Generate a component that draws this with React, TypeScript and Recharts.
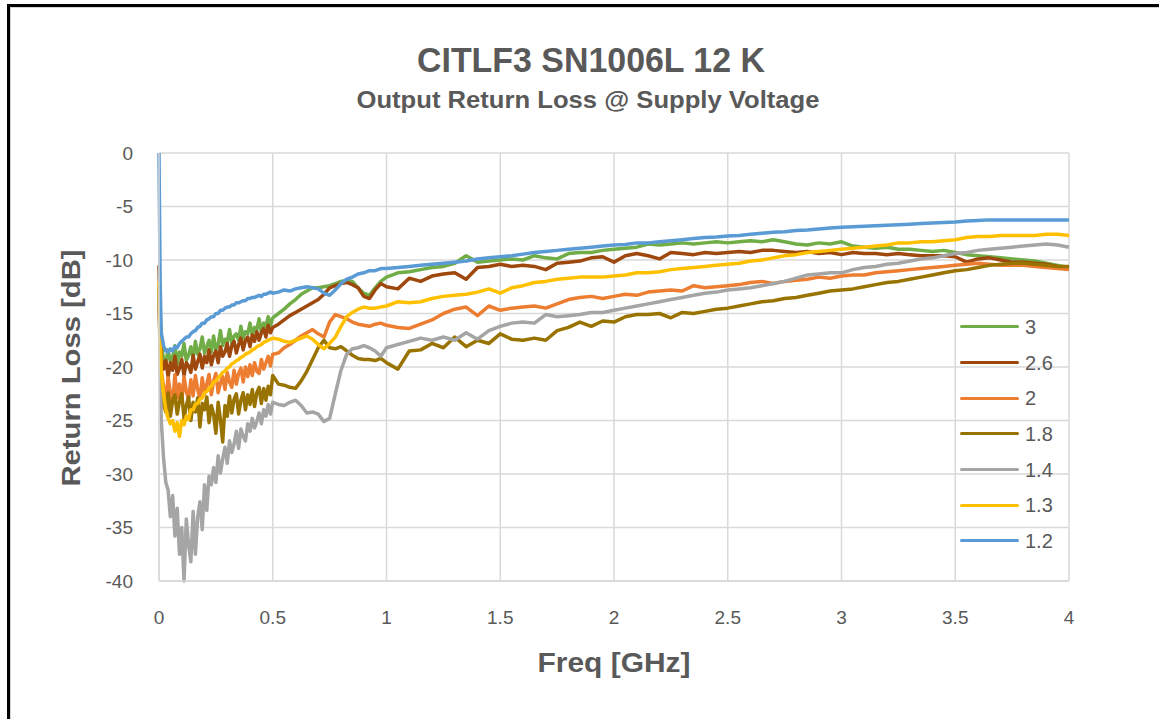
import React from 'react';
import { LineChart, Line, XAxis, YAxis, CartesianGrid, Legend } from 'recharts';

// Frequency grid [GHz]
const freqLow = [0, 0.005,
  0.01, 0.02, 0.03, 0.04, 0.05, 0.06, 0.07, 0.08, 0.09, 0.10,
  0.11, 0.12, 0.13, 0.14, 0.15, 0.16, 0.17, 0.18, 0.19, 0.20,
  0.21, 0.22, 0.23, 0.24, 0.25, 0.26, 0.27, 0.28, 0.29, 0.30,
  0.31, 0.32, 0.33, 0.34, 0.35, 0.36, 0.37, 0.38, 0.39, 0.40,
  0.41, 0.42, 0.43, 0.44, 0.45, 0.46, 0.47, 0.48, 0.49, 0.50];
const freqMid = [0.525, 0.55, 0.575, 0.6, 0.625, 0.65, 0.675, 0.7, 0.725, 0.75,
  0.775, 0.8, 0.825, 0.85, 0.875, 0.9, 0.925, 0.95, 0.975, 1.0];
const freqHigh = [1.05, 1.1, 1.15, 1.2, 1.25, 1.3, 1.35, 1.4, 1.45, 1.5,
  1.55, 1.6, 1.65, 1.7, 1.75, 1.8, 1.85, 1.9, 1.95, 2.0,
  2.05, 2.1, 2.15, 2.2, 2.25, 2.3, 2.35, 2.4, 2.45, 2.5,
  2.55, 2.6, 2.65, 2.7, 2.75, 2.8, 2.85, 2.9, 2.95, 3.0,
  3.05, 3.1, 3.15, 3.2, 3.25, 3.3, 3.35, 3.4, 3.45, 3.5,
  3.55, 3.6, 3.65, 3.7, 3.75, 3.8, 3.85, 3.9, 3.95, 4.0];

const xTicks = [0, 0.5, 1, 1.5, 2, 2.5, 3, 3.5, 4];
const yTicks = [0, -5, -10, -15, -20, -25, -30, -35, -40];

// Series "3"
const v3Low = [-12.5, -16,
  -18.0, -19.2, -19.6, -18.4, -19.5, -19.1, -18.0, -19.7, -18.6, -19.0,
  -17.8, -19.4, -18.9, -18.1, -19.2, -17.6, -18.8, -18.3, -17.2, -18.7,
  -18.1, -17.5, -18.6, -17.1, -18.4, -17.9, -16.6, -18.0, -17.4, -17.7,
  -16.5, -17.8, -17.1, -16.9, -17.5, -16.2, -17.3, -16.7, -16.9, -15.9,
  -17.0, -16.3, -16.5, -15.5, -16.8, -15.9, -16.2, -15.3, -16.1, -15.4];
const v3Mid = [-15.0, -14.6, -14.1, -13.7, -13.2, -12.9, -12.6, -12.6, -12.5, -12.4,
  -12.2, -12.0, -11.9, -12.0, -12.6, -13.1, -13.3, -12.6, -12.0, -11.6];
const v3High = [-11.2, -11.1, -10.9, -10.7, -10.6, -10.3, -9.6, -10.2, -10.1, -10.0,
  -9.9, -10.0, -9.6, -9.8, -9.9, -9.4, -9.3, -9.3, -9.1, -9.0,
  -8.9, -8.8, -8.5, -8.6, -8.5, -8.4, -8.5, -8.4, -8.3, -8.4,
  -8.3, -8.2, -8.3, -8.1, -8.3, -8.5, -8.6, -8.4, -8.5, -8.3,
  -8.7, -8.8, -8.9, -8.8, -9.0, -9.0, -9.1, -9.2, -9.1, -9.3,
  -9.5, -9.6, -9.7, -9.8, -9.9, -10.0, -10.1, -10.3, -10.5, -10.7];

// Series "2.6"
const v26Low = [-10.5, -15,
  -19.2, -20.2, -19.4, -20.9, -19.6, -20.3, -19.0, -20.7, -20.1, -19.3,
  -20.8, -19.6, -19.9, -20.5, -18.9, -20.2, -19.5, -18.8, -20.1, -19.0,
  -19.6, -18.4, -19.8, -18.9, -18.5, -19.6, -18.1, -19.0, -18.6, -17.8,
  -19.0, -18.0, -17.6, -18.7, -17.9, -17.3, -18.4, -17.5, -17.2, -18.1,
  -17.0, -17.6, -16.7, -17.5, -16.8, -16.4, -17.2, -16.1, -16.8, -16.3];
const v26Mid = [-16.0, -15.6, -15.2, -14.9, -14.6, -14.3, -14.0, -13.7, -13.2, -12.6,
  -12.4, -12.2, -12.1, -12.3, -12.6, -13.4, -13.6, -12.8, -12.2, -12.5];
const v26High = [-12.7, -11.7, -12.0, -11.5, -11.3, -11.2, -11.8, -10.7, -10.6, -10.4,
  -10.6, -10.5, -10.6, -10.9, -10.3, -10.2, -10.1, -9.8, -9.7, -10.2,
  -9.6, -9.4, -9.6, -9.9, -9.3, -9.4, -9.5, -9.3, -9.4, -9.3,
  -9.2, -9.3, -9.1, -9.1, -9.2, -9.3, -9.2, -9.4, -9.3, -9.5,
  -9.3, -9.4, -9.4, -9.5, -9.4, -9.5, -9.6, -9.6, -9.6, -9.7,
  -10.2, -9.9, -9.8, -10.0, -10.2, -10.2, -10.3, -10.4, -10.6, -10.7];

// Series "2"
const v2Low = [-14, -18,
  -20.3, -21.8, -23.1, -21.0, -22.4, -23.4, -20.7, -22.9, -21.6, -23.2,
  -20.9, -22.3, -23.0, -21.2, -22.7, -20.8, -22.1, -23.0, -21.0, -22.5,
  -21.6, -20.7, -22.6, -21.3, -20.6, -22.4, -21.5, -20.9, -22.1, -20.5,
  -21.4, -21.9, -20.3, -21.6, -20.6, -20.1, -21.4, -20.0, -20.9, -19.8,
  -20.8, -19.6, -20.4, -20.6, -19.3, -20.2, -19.6, -19.0, -19.9, -18.8];
const v2Mid = [-18.7, -18.2, -17.9, -17.5, -17.1, -16.8, -16.5, -16.9, -17.2, -15.8,
  -15.1, -15.3, -15.5, -15.8, -16.0, -16.1, -16.2, -16.0, -15.9, -16.1];
const v2High = [-16.3, -16.4, -16.0, -15.6, -15.0, -14.6, -14.4, -15.2, -14.3, -14.7,
  -14.5, -14.4, -14.3, -14.5, -14.1, -13.7, -13.5, -13.4, -13.6, -13.4,
  -13.2, -13.3, -13.0, -12.9, -12.8, -12.9, -12.4, -12.6, -12.5, -12.4,
  -12.3, -12.1, -12.0, -12.2, -12.0, -11.9, -11.8, -11.6, -11.7, -11.5,
  -11.4, -11.4, -11.2, -11.1, -11.0, -10.9, -10.8, -10.7, -10.6, -10.5,
  -10.4, -10.3, -10.4, -10.5, -10.5, -10.5, -10.6, -10.7, -10.8, -10.9];

// Series "1.8"
const v18Low = [-13, -18,
  -21.8, -23.5, -24.2, -22.4, -24.6, -23.1, -22.6, -24.4, -23.2, -22.5,
  -24.8, -23.6, -22.8, -25.0, -23.3, -24.2, -22.9, -25.6, -23.4, -24.0,
  -22.8, -25.2, -23.6, -24.4, -26.2, -23.3, -24.9, -27.0, -23.6, -24.6,
  -22.7, -24.3, -23.0, -22.5, -24.4, -23.1, -22.4, -24.0, -22.6, -23.5,
  -22.1, -23.7, -22.4, -21.9, -23.4, -22.0, -23.1, -21.8, -22.6, -20.8];
const v18Mid = [-21.6, -21.7, -21.9, -22.0, -21.3, -20.4, -19.3, -18.2, -17.5, -18.2,
  -18.3, -18.1, -18.5, -18.9, -19.2, -19.3, -19.3, -19.4, -19.2, -19.6];
const v18High = [-20.2, -18.5, -18.4, -17.8, -18.2, -17.2, -18.1, -17.5, -17.8, -16.9,
  -17.4, -17.5, -17.3, -17.5, -16.6, -16.3, -15.8, -16.2, -15.7, -15.8,
  -15.3, -15.1, -15.1, -15.0, -15.4, -14.9, -15.0, -14.8, -14.6, -14.5,
  -14.3, -14.1, -13.9, -13.8, -13.6, -13.5, -13.3, -13.1, -12.9, -12.8,
  -12.7, -12.5, -12.3, -12.1, -12.0, -11.8, -11.6, -11.4, -11.2, -11.0,
  -10.9, -10.7, -10.5, -10.4, -10.3, -10.3, -10.4, -10.5, -10.6, -10.6];

// Series "1.4"
const v14Low = [-12.5, -20,
  -25.0, -28.5, -30.8, -31.5, -34.0, -32.0, -35.8, -33.2, -37.5, -35.0,
  -40.0, -34.2, -36.6, -38.2, -33.5, -37.5, -34.0, -32.6, -35.2, -31.0,
  -33.4, -30.2, -31.0, -29.4, -30.8, -28.3, -29.9, -28.6, -27.5, -29.0,
  -26.9, -28.0, -27.2, -26.0, -27.6, -25.8, -26.5, -26.9, -25.3, -26.0,
  -24.8, -25.7, -25.1, -24.3, -25.3, -24.0, -24.6, -23.5, -24.4, -23.3];
const v14Mid = [-23.5, -23.6, -23.3, -23.1, -23.6, -24.3, -24.2, -24.4, -25.1, -24.8,
  -22.5, -20.3, -18.8, -18.3, -18.2, -18.0, -18.2, -18.5, -19.0, -18.2];
const v14High = [-17.9, -17.6, -17.3, -17.5, -17.2, -17.5, -16.8, -17.4, -16.6, -16.2,
  -15.9, -15.8, -15.9, -15.1, -15.3, -15.2, -15.1, -14.9, -14.9, -14.7,
  -14.5, -14.3, -14.1, -13.9, -13.7, -13.5, -13.3, -13.1, -13.0, -12.8,
  -12.7, -12.6, -12.4, -12.2, -12.0, -11.7, -11.4, -11.3, -11.2, -11.2,
  -10.9, -10.7, -10.6, -10.4, -10.3, -10.1, -9.9, -9.8, -9.6, -9.4,
  -9.3, -9.1, -9.0, -8.9, -8.8, -8.7, -8.6, -8.5, -8.6, -8.8];

// Series "1.3"
const v13Low = [-12, -17,
  -20.5, -22.5, -24.0, -24.8, -25.3, -25.0, -26.0, -25.2, -26.5, -25.0,
  -25.4, -24.6, -24.9, -24.0, -24.0, -23.5, -23.4, -23.0, -22.9, -22.4,
  -22.3, -22.0, -21.8, -21.4, -21.3, -21.0, -20.8, -20.5, -20.4, -20.1,
  -20.0, -19.7, -19.6, -19.4, -19.3, -19.1, -19.0, -18.8, -18.7, -18.6,
  -18.4, -18.3, -18.1, -18.0, -17.9, -17.7, -17.6, -17.5, -17.4, -17.3];
const v13Mid = [-17.4, -17.6, -17.7, -17.5, -17.3, -17.1, -17.4, -17.9, -18.3, -17.8,
  -17.2, -16.2, -15.3, -14.9, -14.6, -14.4, -14.5, -14.5, -14.4, -14.3];
const v13High = [-13.9, -14.0, -13.9, -13.6, -13.4, -13.3, -13.2, -13.0, -12.7, -13.1,
  -12.6, -12.4, -12.1, -12.0, -11.8, -11.7, -11.6, -11.6, -11.6, -11.5,
  -11.4, -11.2, -11.2, -11.1, -10.9, -10.8, -10.7, -10.6, -10.5, -10.4,
  -10.3, -10.1, -10.0, -9.8, -9.6, -9.5, -9.3, -9.2, -9.1, -9.0,
  -8.9, -8.8, -8.7, -8.6, -8.4, -8.4, -8.3, -8.3, -8.2, -8.1,
  -7.9, -7.8, -7.8, -7.7, -7.7, -7.7, -7.7, -7.6, -7.6, -7.7];

// Series "1.2"
const v12Low = [0, -12,
  -16.8, -18.0, -18.5, -18.6, -18.3, -18.5, -18.1, -18.2, -17.8, -17.6,
  -17.4, -17.2, -17.2, -16.9, -16.7, -16.6, -16.3, -16.2, -15.9, -15.9,
  -15.6, -15.5, -15.3, -15.3, -15.0, -15.0, -14.7, -14.7, -14.5, -14.4,
  -14.4, -14.2, -14.2, -14.0, -14.0, -13.9, -13.8, -13.8, -13.6, -13.6,
  -13.5, -13.5, -13.4, -13.3, -13.4, -13.2, -13.2, -13.1, -13.0, -13.1];
const v12Mid = [-13.0, -12.8, -12.9, -12.7, -12.6, -12.5, -12.6, -12.7, -13.1, -13.3,
  -12.8, -12.2, -11.8, -11.6, -11.3, -11.2, -11.0, -11.0, -10.8, -10.8];
const v12High = [-10.7, -10.6, -10.5, -10.4, -10.3, -10.2, -10.1, -9.9, -9.8, -9.7,
  -9.6, -9.45, -9.3, -9.2, -9.1, -9.0, -8.9, -8.8, -8.7, -8.6,
  -8.55, -8.4, -8.4, -8.3, -8.2, -8.1, -8.0, -7.9, -7.85, -7.75,
  -7.7, -7.6, -7.5, -7.4, -7.35, -7.25, -7.2, -7.1, -7.0, -6.95,
  -6.9, -6.85, -6.8, -6.75, -6.7, -6.65, -6.6, -6.55, -6.5, -6.45,
  -6.35, -6.3, -6.25, -6.25, -6.25, -6.25, -6.25, -6.25, -6.25, -6.25];

const freqs = [...freqLow, ...freqMid, ...freqHigh];

const SERIES = [
  { key: 's3', name: '3', color: '#70AD47', values: [...v3Low, ...v3Mid, ...v3High] },
  { key: 's26', name: '2.6', color: '#9E480E', values: [...v26Low, ...v26Mid, ...v26High] },
  { key: 's2', name: '2', color: '#ED7D31', values: [...v2Low, ...v2Mid, ...v2High] },
  { key: 's18', name: '1.8', color: '#997300', values: [...v18Low, ...v18Mid, ...v18High] },
  { key: 's14', name: '1.4', color: '#A5A5A5', values: [...v14Low, ...v14Mid, ...v14High] },
  { key: 's13', name: '1.3', color: '#FFC000', values: [...v13Low, ...v13Mid, ...v13High] },
  { key: 's12', name: '1.2', color: '#5B9BD5', values: [...v12Low, ...v12Mid, ...v12High] },
];

const data = freqs.map((f, i) => {
  const row: Record<string, number> = { f };
  SERIES.forEach((s) => { row[s.key] = s.values[i]; });
  return row;
});

const TEXT = '#595959';
const FONT = '"Liberation Sans", Arial, sans-serif';

const renderLegend = (props: any) => {
  const payload: any[] = props.payload || [];
  const ordered = SERIES.map((s) => payload.find((p: any) => p.value === s.name || p.dataKey === s.key)).filter(Boolean);
  return (
    <div>
      {ordered.map((p: any) => (
        <div key={p.value} style={{ display: 'flex', alignItems: 'center', height: 35.7 }}>
          <div style={{ width: 59, height: 3, background: p.color, borderRadius: 2, marginRight: 6 }} />
          <span style={{ fontFamily: FONT, fontSize: 20, color: TEXT, lineHeight: '20px' }}>{p.value}</span>
        </div>
      ))}
    </div>
  );
};

export default function App() {
  return (
    <div style={{ position: 'absolute', left: 0, top: 0, width: 1159, height: 719, background: '#fff', overflow: 'hidden' }}>
      <div style={{ position: 'absolute', left: 7, top: 4, width: 1200, height: 800, borderLeft: '3px solid #000', borderTop: '3px solid #000' }} />
      <div style={{ position: 'absolute', left: 10, top: 7, width: 1200, height: 800, borderLeft: '1px solid #d4d4d4', borderTop: '1px solid #d4d4d4' }} />
      <div style={{ position: 'absolute', left: 0, top: 0 }}>
        <LineChart width={1159} height={719} data={data} margin={{ top: 153, right: 90, bottom: 98, left: 0 }}>
          <CartesianGrid stroke="#D9D9D9" strokeWidth={1.5} />
          <XAxis
            dataKey="f"
            type="number"
            domain={[0, 4]}
            ticks={xTicks}
            height={40}
            tickLine={false}
            axisLine={{ stroke: '#D9D9D9', strokeWidth: 1.5 }}
            tickMargin={24}
            tick={{ fill: TEXT, fontSize: 19, fontFamily: FONT }}
            interval={0}
          />
          <YAxis
            type="number"
            domain={[-40, 0]}
            ticks={yTicks}
            width={159}
            tickLine={false}
            axisLine={{ stroke: '#D9D9D9', strokeWidth: 1.5 }}
            tickMargin={20}
            tick={{ fill: TEXT, fontSize: 19, fontFamily: FONT }}
            interval={0}
          />
          <Legend
            layout="vertical"
            align="center"
            verticalAlign="middle"
            content={renderLegend}
            wrapperStyle={{ left: 960, top: 309, width: 110, height: 252 }}
          />
          {SERIES.map((s) => (
            <Line
              key={s.key}
              dataKey={s.key}
              name={s.name}
              stroke={s.color}
              strokeWidth={3.5}
              dot={false}
              activeDot={false}
              type="linear"
              strokeLinejoin="round"
              isAnimationActive={false}
            />
          ))}
        </LineChart>
      </div>
      <svg width={1159} height={719} style={{ position: 'absolute', left: 0, top: 0, pointerEvents: 'none' }}>
        <text x={591} y={72} textAnchor="middle" fontFamily={FONT} fontWeight="bold" fontSize={35} fill={TEXT}
          textLength={348} lengthAdjust="spacingAndGlyphs">CITLF3 SN1006L 12 K</text>
        <text x={588} y={108} textAnchor="middle" fontFamily={FONT} fontWeight="bold" fontSize={24} fill={TEXT}
          textLength={463} lengthAdjust="spacingAndGlyphs">Output Return Loss @ Supply Voltage</text>
        <text x={614} y={672} textAnchor="middle" fontFamily={FONT} fontWeight="bold" fontSize={28} fill={TEXT}
          textLength={153} lengthAdjust="spacingAndGlyphs">Freq [GHz]</text>
        <text transform="translate(80,368) rotate(-90)" x={0} y={0} textAnchor="middle" fontFamily={FONT} fontWeight="bold"
          fontSize={26} fill={TEXT} textLength={237} lengthAdjust="spacingAndGlyphs">Return Loss [dB]</text>
      </svg>
    </div>
  );
}
